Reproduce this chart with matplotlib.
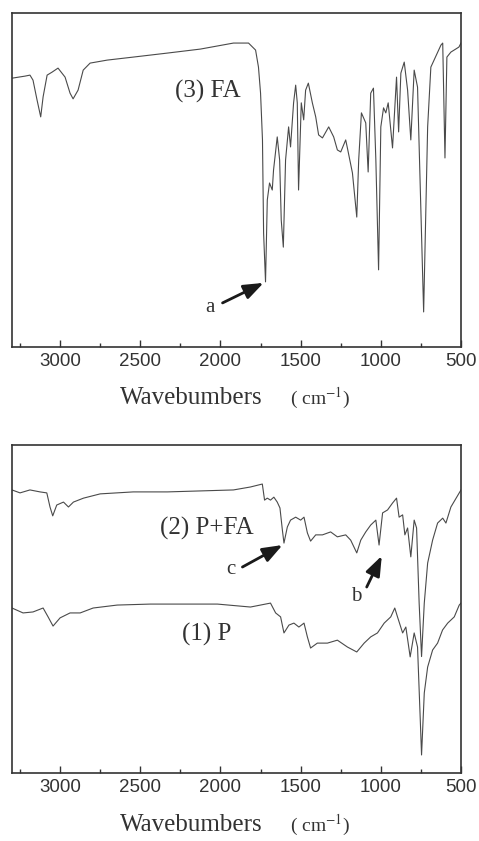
import matplotlib
matplotlib.use("Agg")
import matplotlib.pyplot as plt
from matplotlib.ticker import MultipleLocator

plt.rcParams['font.family'] = ['Liberation Sans', 'DejaVu Sans']
plt.rcParams['mathtext.fontset'] = 'stix'

# (3) FA spectrum: wavenumber (cm-1), transmittance (%)
fa_wn = [3298, 3219, 3188, 3169, 3144, 3121, 3106, 3081, 3050, 3013, 2969, 2938,
         2919, 2888, 2856, 2813, 2706, 2544, 2331, 2125, 1919, 1825, 1781, 1763,
         1750, 1738, 1731, 1719, 1708, 1694, 1677, 1669, 1646, 1631, 1621, 1608,
         1594, 1575, 1563, 1544, 1531, 1521, 1513, 1496, 1481, 1469, 1452, 1427,
         1406, 1388, 1364, 1325, 1294, 1271, 1250, 1219, 1206, 1177, 1150, 1138,
         1121, 1094, 1079, 1063, 1046, 1031, 1014, 1000, 983, 969, 954, 927,
         902, 889, 875, 854, 833, 813, 792, 771, 733, 708, 688, 625,
         614, 600, 588, 563, 513, 500]
fa_t = [80.5, 81.1, 81.4, 79.9, 74.0, 68.9, 74.9, 81.4, 82.3, 83.5, 80.8, 76.0,
        74.3, 76.9, 82.9, 85.0, 85.9, 86.8, 88.0, 89.2, 91.0, 91.0, 88.9, 83.8,
        76.0, 62.0, 34.1, 19.5, 44.0, 49.1, 47.0, 53.0, 62.9, 56.0, 38.0, 29.9,
        56.0, 65.9, 59.9, 73.1, 78.4, 73.1, 47.0, 73.1, 68.0, 76.9, 79.0, 73.1,
        68.9, 63.5, 62.6, 65.9, 62.9, 59.0, 58.4, 62.0, 59.0, 52.1, 38.9, 56.0,
        70.1, 67.1, 52.4, 76.0, 77.5, 56.0, 23.1, 65.9, 71.6, 70.1, 73.1, 59.6,
        80.8, 64.4, 82.0, 85.3, 76.9, 62.0, 82.9, 77.8, 10.5, 65.9, 83.8, 90.4,
        91.0, 56.6, 86.8, 88.3, 89.8, 91.0]

# (2) P+FA spectrum
pfa_wn = [3300, 3250, 3188, 3125, 3083, 3063, 3046, 3021, 2979, 2948, 2917, 2854,
          2750, 2544, 2331, 2125, 1919, 1813, 1739, 1725, 1708, 1688, 1667, 1646,
          1629, 1614, 1604, 1583, 1563, 1531, 1500, 1479, 1458, 1438, 1406, 1364,
          1313, 1271, 1219, 1188, 1150, 1125, 1094, 1063, 1031, 1011, 989, 958,
          927, 902, 886, 864, 850, 833, 813, 792, 777, 761, 746, 729,
          708, 677, 646, 614, 594, 563, 511, 500]
pfa_t = [86.3, 85.4, 86.3, 85.7, 85.4, 81.1, 78.4, 81.7, 82.6, 81.1, 82.6, 83.8,
         85.1, 85.7, 85.7, 86.0, 86.3, 87.2, 88.1, 83.2, 83.8, 83.2, 84.1, 82.6,
         80.8, 74.1, 70.1, 75.0, 77.1, 78.0, 77.1, 78.0, 73.2, 70.7, 72.6, 72.6,
         73.5, 72.0, 72.6, 71.0, 67.1, 71.0, 73.5, 75.6, 77.1, 69.5, 79.3, 80.2,
         82.3, 83.8, 78.0, 78.7, 72.6, 74.7, 65.9, 77.1, 74.7, 51.8, 35.5, 51.8,
         64.0, 71.0, 76.2, 77.7, 76.2, 81.1, 85.4, 86.3]

# (1) P spectrum
p_wn = [3300, 3231, 3169, 3106, 3075, 3044, 3000, 2938, 2875, 2794, 2644, 2438,
        2231, 2019, 1813, 1688, 1656, 1625, 1604, 1573, 1542, 1511, 1479, 1458,
        1438, 1396, 1333, 1271, 1208, 1150, 1104, 1063, 1021, 979, 938, 913,
        896, 864, 844, 817, 792, 771, 754, 746, 729, 708, 677, 646,
        615, 583, 542, 511, 500]
p_t = [50.3, 48.8, 49.1, 50.3, 47.6, 44.8, 47.3, 48.8, 48.8, 50.3, 51.2, 51.5,
       51.5, 51.5, 50.6, 51.8, 48.8, 47.6, 42.7, 45.1, 45.7, 44.5, 45.7, 41.5,
       38.1, 39.6, 39.6, 40.5, 38.4, 36.9, 39.6, 41.5, 42.7, 45.7, 47.6, 50.3,
       47.6, 42.7, 44.5, 35.4, 42.7, 38.4, 16.2, 5.5, 24.4, 32.3, 37.5, 39.6,
       43.6, 45.7, 47.6, 51.2, 51.8]

tick_vals = [3000, 2500, 2000, 1500, 1000, 500]
xlabel = "Wavebumbers"
unit = r"( cm$^{-1}$)"

line_col = '#4a4a4a'
W, H = 479, 841
fig = plt.figure(figsize=(W / 100, H / 100), dpi=100)

ax1 = fig.add_axes([12 / W, 1 - 347 / H, 449 / W, 334 / H])
ax2 = fig.add_axes([12 / W, 1 - 773 / H, 449 / W, 328 / H])

ax1.plot(fa_wn, fa_t, color=line_col, lw=0.8)
ax2.plot(pfa_wn, pfa_t, color=line_col, lw=0.8)
ax2.plot(p_wn, p_t, color=line_col, lw=0.8)

for ax in (ax1, ax2):
    ax.set_xlim(3300, 500)
    ax.set_ylim(0, 100)
    ax.set_xticks(tick_vals)
    ax.xaxis.set_minor_locator(MultipleLocator(250))
    ax.tick_params(axis='x', which='major', direction='in', length=5, width=1,
                   labelsize=13.5, pad=4, colors='#333333')
    ax.tick_params(axis='x', which='minor', direction='in', length=3, width=1,
                   colors='#333333')
    ax.set_yticks([])
    for s in ax.spines.values():
        s.set_color('#333333')
        s.set_linewidth(1.2)

serif = ['Liberation Serif', 'DejaVu Serif']
ax1.text(2081, 76.6, "(3) FA", family=serif, fontsize=18, color='#333333',
         ha='center', va='center')
ax2.text(2088, 74.7, "(2) P+FA", family=serif, fontsize=18, color='#333333',
         ha='center', va='center')
ax2.text(2088, 42.1, "(1) P", family=serif, fontsize=18, color='#333333',
         ha='center', va='center')

arrow = dict(arrowstyle='-|>,head_length=1.2,head_width=0.45', lw=2,
             color='#1a1a1a', shrinkA=0, shrinkB=0)
ax1.annotate("", xy=(1731, 19.2), xytext=(1987, 13.2), arrowprops=arrow)
ax1.text(2063, 11.7, "a", family=serif, fontsize=15, color='#333333',
         ha='center', va='center')
ax2.annotate("", xy=(1613, 69.5), xytext=(1863, 62.8), arrowprops=arrow)
ax2.text(1938, 61.9, "c", family=serif, fontsize=15, color='#333333',
         ha='center', va='center')
ax2.annotate("", xy=(994, 66.2), xytext=(1088, 56.7), arrowprops=arrow)
ax2.text(1156, 53.7, "b", family=serif, fontsize=15, color='#333333',
         ha='center', va='center')

for yc in (398, 825):
    fig.text(191 / W, 1 - yc / H, xlabel, family=serif, fontsize=18,
             color='#333333', ha='center', va='center')
    fig.text(320 / W, 1 - yc / H, unit, family=serif, fontsize=14,
             color='#333333', ha='center', va='center')

fig.savefig("out.png", dpi=100, facecolor='white')
